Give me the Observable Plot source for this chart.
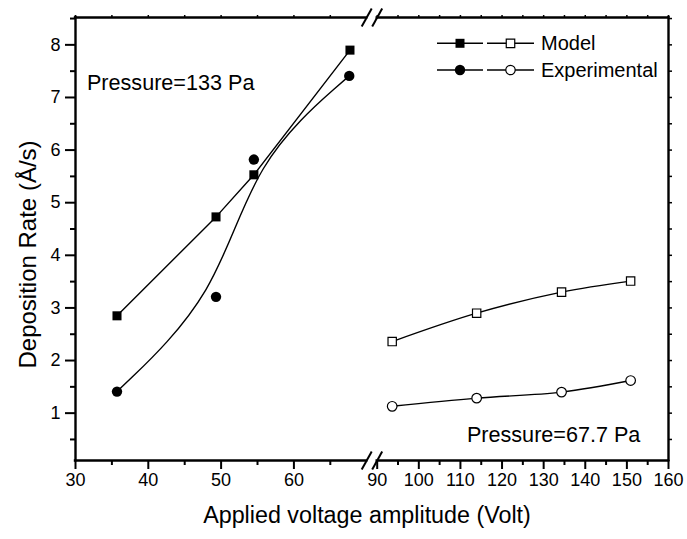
<!DOCTYPE html>
<html>
<head>
<meta charset="utf-8">
<script src="https://cdn.jsdelivr.net/npm/d3@7"></script>
<script src="https://cdn.jsdelivr.net/npm/@observablehq/plot@0.6"></script>
<style>
  html, body { margin: 0; padding: 0; background: #fff; }
  #chart { width: 687px; height: 539px; }
</style>
</head>
<body>
<div id="chart"></div>
<script>
// ---- data ----
const lowVoltageModel = [35.7, 49.3, 54.5, 67.7];
const lowModel = [2.85, 4.73, 5.53, 7.90];
const lowVoltageExp = [35.7, 49.3, 54.5, 67.6];
const lowExperimental = [1.41, 3.21, 5.82, 7.41];
const highVoltage = [93.6, 113.9, 134.3, 150.9];
const highModel = [2.36, 2.90, 3.30, 3.51];
const highExperimental = [1.13, 1.285, 1.40, 1.62];

const xSegments = [30, 70, 90, 160];          // broken axis: 30–70 // 90–160
const yDomain = [0.1, 8.52];
const xTicksMajor = [30, 40, 50, 60, 90, 100, 110, 120, 130, 140, 150, 160];
const xTicksMinor = [35, 45, 55, 65, 95, 105, 115, 125, 135, 145, 155];
const yTicksMajor = [1, 2, 3, 4, 5, 6, 7, 8];
const yTicksMinor = [0.5, 1.5, 2.5, 3.5, 4.5, 5.5, 6.5, 7.5, 8.5];
const seriesNames = ["Model", "Experimental"];
const annotationTexts = ["Pressure=133 Pa", "Pressure=67.7 Pa"];
const annotationX = [31.57, 111.56];
const annotationY = [7.28, 0.576];
const xTitle = "Applied voltage amplitude (Volt)";
const yTitle = "Deposition Rate (Å/s)";

// ---- broken-axis mapping: right segment is compressed and offset after a small gap ----
const rightSegmentScale = 0.5716;  // right segment units relative to left segment units
const breakGap = 1.44;             // gap between 70 and 90, in left-segment units
const bx = v => v <= xSegments[1] ? v : xSegments[1] + breakGap + (v - xSegments[2]) * rightSegmentScale;

// ---- tables ----
const zip = (xs, ys) => xs.map((x, i) => ({x, y: ys[i]}));
const lowM = zip(lowVoltageModel, lowModel);
const lowE = zip(lowVoltageExp, lowExperimental);
const highM = zip(highVoltage, highModel);
const highE = zip(highVoltage, highExperimental);
const annotations = annotationTexts.map((t, i) => ({x: annotationX[i], y: annotationY[i], text: t}));
const breaks = [];
for (const yy of yDomain) for (const xx of [xSegments[1], xSegments[2]]) breaks.push({x: xx, y: yy});
const tickLabel = new Map(xTicksMajor.map(v => [bx(v), `${v}`]));

const X = d => bx(d.x);
const slash = {draw(ctx) { ctx.moveTo(-5, 9); ctx.lineTo(5, -9); }};
const FONT = "'Liberation Sans', Arial, Helvetica, sans-serif";
const lw = 1.4;

const chart = Plot.plot({
  width: 687,
  height: 539,
  marginLeft: 75,
  marginRight: 19,
  marginTop: 17,
  marginBottom: 79,
  style: {fontFamily: FONT, fontSize: "18px", background: "white", color: "black", overflow: "visible"},
  x: {domain: [bx(xSegments[0]), bx(xSegments[3])]},
  y: {domain: yDomain},
  marks: [
    // curves
    Plot.line(lowM, {x: X, y: "y", curve: "linear", stroke: "black", strokeWidth: lw}),
    Plot.line(lowE, {x: X, y: "y", curve: "basis", stroke: "black", strokeWidth: lw}),
    Plot.line(highM, {x: X, y: "y", curve: "catmull-rom", stroke: "black", strokeWidth: lw}),
    Plot.line(highE, {x: X, y: "y", curve: "catmull-rom", stroke: "black", strokeWidth: lw}),
    // symbols
    Plot.dot(lowM, {x: X, y: "y", symbol: "square", r: 5.1, fill: "black", stroke: "none"}),
    Plot.dot(lowE, {x: X, y: "y", symbol: "circle", r: 5.2, fill: "black", stroke: "none"}),
    Plot.dot(highM, {x: X, y: "y", symbol: "square", r: 4.7, fill: "white", stroke: "black", strokeWidth: 1.2}),
    Plot.dot(highE, {x: X, y: "y", symbol: "circle", r: 4.8, fill: "white", stroke: "black", strokeWidth: 1.2}),
    // frame (with gap at the break)
    Plot.ruleX([bx(xSegments[0]), bx(xSegments[3])], {stroke: "black", strokeWidth: 2.4, strokeLinecap: "square"}),
    Plot.ruleY(yDomain, {x1: bx(xSegments[0]), x2: bx(xSegments[1]), stroke: "black", strokeWidth: 2.4, strokeLinecap: "square"}),
    Plot.ruleY(yDomain, {x1: bx(xSegments[2]), x2: bx(xSegments[3]), stroke: "black", strokeWidth: 2.4, strokeLinecap: "square"}),
    Plot.dot(breaks, {x: X, y: "y", symbol: slash, fill: "none", stroke: "black", strokeWidth: 2}),
    // axes
    Plot.axisX({ticks: xTicksMajor.map(bx), anchor: "bottom", tickSize: 9, tickPadding: 4, fontSize: 18, strokeWidth: 2, tickFormat: v => tickLabel.get(v), label: null}),
    Plot.axisX({ticks: xTicksMinor.map(bx), anchor: "bottom", tickSize: 5, strokeWidth: 2, fill: "none", label: null}),
    Plot.axisX({ticks: xTicksMajor.concat(xTicksMinor).map(bx), anchor: "top", tickSize: 3, strokeWidth: 1.5, fill: "none", label: null}),
    Plot.axisY({ticks: yTicksMajor, anchor: "left", tickSize: 10, tickPadding: 5, fontSize: 18, strokeWidth: 2, tickFormat: d => `${d}`, label: null}),
    Plot.axisY({ticks: yTicksMinor, anchor: "left", tickSize: 5, strokeWidth: 2, fill: "none", label: null}),
    Plot.axisY({ticks: yTicksMajor.concat(yTicksMinor), anchor: "right", tickSize: 3, strokeWidth: 1.5, fill: "none", label: null}),
    // titles and annotations
    Plot.text([xTitle], {frameAnchor: "bottom", textAnchor: "middle", lineAnchor: "middle", dx: -5, dy: 55, fontSize: 23.3, fill: "black"}),
    Plot.text([yTitle], {frameAnchor: "left", textAnchor: "middle", lineAnchor: "middle", rotate: -90, dx: -47, dy: 15.5, fontSize: 24, fill: "black"}),
    Plot.text(annotations, {x: X, y: "y", text: "text", textAnchor: "start", fontSize: 21.6, fill: "black"})
  ]
});

// ---- legend (inside the frame, top right) ----
const svg = d3.select(chart);
const lg = svg.append("g").attr("font-family", FONT).attr("font-size", 20).attr("text-anchor", "start");
const rows = [
  {name: seriesNames[0], y: 43.3, shape: d3.symbolSquare, size: 81, openSize: 72},
  {name: seriesNames[1], y: 70, shape: d3.symbolCircle, size: 85, openSize: 70}
];
rows.forEach(r => {
  const g = lg.append("g").attr("transform", `translate(0,${r.y})`);
  g.append("line").attr("x1", 437).attr("x2", 483).attr("stroke", "black").attr("stroke-width", lw);
  g.append("line").attr("x1", 487).attr("x2", 534).attr("stroke", "black").attr("stroke-width", lw);
  g.append("path").attr("d", d3.symbol(r.shape, r.size)()).attr("transform", "translate(460,0)").attr("fill", "black");
  g.append("path").attr("d", d3.symbol(r.shape, r.openSize)()).attr("transform", "translate(510.5,0)")
    .attr("fill", "white").attr("stroke", "black").attr("stroke-width", 1.2);
  g.append("text").attr("x", 541).attr("y", 0).attr("dy", "0.35em").attr("fill", "black").attr("text-anchor", "start").text(r.name);
});

document.getElementById("chart").appendChild(chart);
</script>
</body>
</html>
